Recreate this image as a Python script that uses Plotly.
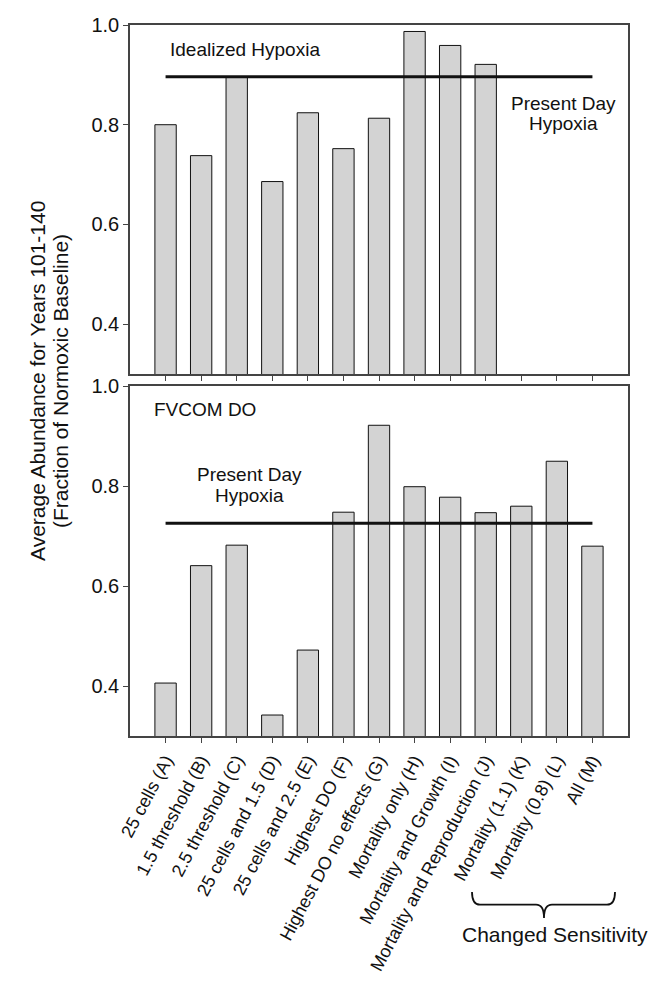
import plotly.graph_objects as go

categories = ["25 cells (A)", "1.5 threshold (B)", "2.5 threshold (C)", "25 cells and 1.5 (D)",
              "25 cells and 2.5 (E)", "Highest DO (F)", "Highest DO no effects (G)",
              "Mortality only (H)", "Mortality and Growth (I)", "Mortality and Reproduction (J)",
              "Mortality (1.1) (K)", "Mortality (0.8) (L)", "All (M)"]
idealized = [0.800, 0.738, 0.896, 0.686, 0.824, 0.752, 0.813, 0.987, 0.959, 0.921, None, None, None]
fvcom = [0.406, 0.641, 0.682, 0.342, 0.472, 0.748, 0.922, 0.799, 0.778, 0.747, 0.760, 0.850, 0.680]
present_day_idealized = 0.896
present_day_fvcom = 0.726
yticks = [0.4, 0.6, 0.8, 1.0]
yticklabels = ["0.4", "0.6", "0.8", "1.0"]

W, H = 656, 984
ML, MR, MT, MB = 122, 36, 17, 256
PW, PH = W - ML - MR, H - MT - MB
FONT = "Liberation Sans, Arial, sans-serif"
idx = list(range(len(categories)))

def px(x):
    return (x - ML) / PW

def py(y):
    return (H - MB - y) / PH

fig = go.Figure()
bar_style = dict(marker=dict(color="#d3d3d3", line=dict(color="#111111", width=1)), width=0.6,
                 showlegend=False, hoverinfo="skip")
fig.add_trace(go.Bar(x=idx, y=idealized, xaxis="x", yaxis="y", **bar_style))
fig.add_trace(go.Bar(x=idx, y=fvcom, xaxis="x2", yaxis="y2", **bar_style))
fig.add_trace(go.Scatter(x=[idx[0], idx[-1]], y=[present_day_idealized] * 2, xaxis="x", yaxis="y",
                         mode="lines", line=dict(color="#111111", width=3), showlegend=False))
fig.add_trace(go.Scatter(x=[idx[0], idx[-1]], y=[present_day_fvcom] * 2, xaxis="x2", yaxis="y2",
                         mode="lines", line=dict(color="#111111", width=3), showlegend=False))

axis_common = dict(showline=True, mirror=True, linecolor="#444444", linewidth=1.5, automargin=False,
                   ticks="outside", ticklen=5, tickcolor="#444444", showgrid=False, zeroline=False)
yfont = dict(family=FONT, size=20, color="#111111")
xfont = dict(family=FONT, size=18, color="#111111")
fig.update_layout(
    width=W, height=H, margin=dict(l=ML, r=MR, t=MT, b=MB, autoexpand=False),
    paper_bgcolor="white", plot_bgcolor="white", bargap=0.4,
    font=dict(family=FONT, color="#111111"),
    xaxis=dict(domain=[0, 1], anchor="y", range=[-1, len(categories)], tickvals=idx,
               showticklabels=False, **axis_common),
    yaxis=dict(domain=[py(366), 1], anchor="x", range=[0.3, 1.0], tickvals=yticks,
               ticktext=yticklabels, tickfont=yfont, **axis_common),
    xaxis2=dict(domain=[0, 1], anchor="y2", range=[-1, len(categories)], tickvals=idx,
                ticktext=categories, tickangle=-62, tickfont=xfont, **axis_common),
    yaxis2=dict(domain=[0, py(378.3)], anchor="x2", range=[0.3, 1.0], tickvals=yticks,
                ticktext=yticklabels, tickfont=yfont, **axis_common),
)

def ann(text, x, y, size=19, xanchor="center", angle=0):
    fig.add_annotation(text=text, x=px(x), y=py(y), xref="paper", yref="paper", showarrow=False,
                       xanchor=xanchor, yanchor="middle", textangle=angle,
                       font=dict(family=FONT, size=size, color="#111111"))

ann("Idealized Hypoxia", 160, 42, xanchor="left")
ann("Present Day", 555.5, 95)
ann("Hypoxia", 555.5, 116)
ann("FVCOM DO", 144, 401, xanchor="left")
ann("Present Day", 241, 466)
ann("Hypoxia", 241, 487)
ann("Changed Sensitivity", 547, 926, size=21)
ann("Average Abundance for Years 101-140", 29, 373, size=21, angle=-90)
ann("(Fraction of Normoxic Baseline)", 52, 373, size=21, angle=-90)

# curly brace under the changed-sensitivity labels
xl, xr, xm = 464, 607, 536
yt, yh, yb = 884, 896.7, 910
pts = (f"M {px(xl)},{py(yt)} Q {px(xl)},{py(yh)} {px(xl+8)},{py(yh)} "
       f"L {px(xm-8)},{py(yh)} Q {px(xm)},{py(yh)} {px(xm)},{py(yb)} "
       f"Q {px(xm)},{py(yh)} {px(xm+8)},{py(yh)} "
       f"L {px(xr-8)},{py(yh)} Q {px(xr)},{py(yh)} {px(xr)},{py(yt)}")
fig.add_shape(type="path", path=pts, xref="paper", yref="paper",
              line=dict(color="#111111", width=1.8))

fig.write_html("out.html")
